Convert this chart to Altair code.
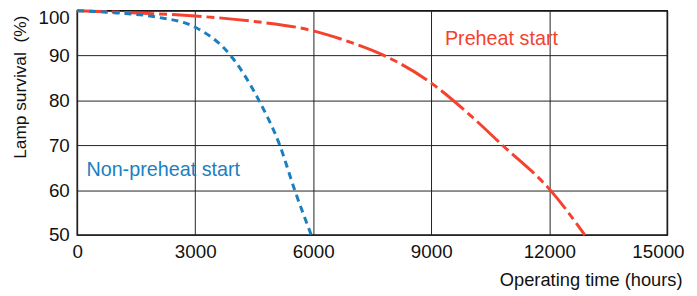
import altair as alt
import pandas as pd

# Preheat start (red, dash-dot)
pre_x = [0, 1500, 3000, 4500, 6000, 6834, 7756, 9011, 9950, 10812, 12027, 12907]
pre_y = [100, 99.5, 98.8, 97.6, 95.5, 93.3, 90.2, 83.8, 77.0, 70.0, 60.0, 50.0]

# Non-preheat start (blue, dashed)
non_x = [0, 1000, 2000, 3000, 3900, 4620, 5150, 5530, 5950]
non_y = [100, 99.5, 98.6, 96.3, 90.0, 80.0, 70.0, 60.0, 50.0]

label_text = ["Preheat start", "Non-preheat start"]
label_x = [9347, 234]
label_y = [92.3, 63.2]
colors = ["#f5412e", "#1a7fc1"]

x_ticks = [0, 3000, 6000, 9000, 12000, 15000]
y_ticks = [50, 60, 70, 80, 90, 100]

pre = pd.DataFrame({"t": pre_x, "s": pre_y})
non = pd.DataFrame({"t": non_x, "s": non_y})
lab = pd.DataFrame({"text": label_text, "t": label_x, "s": label_y, "c": colors})

xs = alt.Scale(domain=[0, 15000], nice=False)
ys = alt.Scale(domain=[50, 100], nice=False, zero=False)

FONT = "Liberation Sans"

xaxis = alt.Axis(values=x_ticks, format="d", title="Operating time (hours)", grid=True,
                 gridColor="#222", gridOpacity=1, gridWidth=1, ticks=False, domain=False,
                 labelFontSize=19, labelPadding=8, labelColor="#111",
                 labelAlign={"condition": {"test": "datum.value == 15000", "value": "right"}, "value": "center"},
                 labelOffset={"condition": {"test": "datum.value == 15000", "value": 17}, "value": 0},
                 titleFontSize=18.5, titleFontWeight="normal", titleColor="#111",
                 titleAlign="right", titleBaseline="alphabetic", titleX=612, titleY=51,
                 labelFont=FONT, titleFont=FONT, labelFlush=False, labelOverlap=False)
yaxis = alt.Axis(values=y_ticks, format="d", title="Lamp survival\u00a0 (%)", grid=True,
                 gridColor="#222", gridOpacity=1, gridWidth=1, ticks=False, domain=False,
                 labelFontSize=19, labelPadding=8, labelColor="#111",
                 labelBaseline={"condition": {"test": "datum.value == 100", "value": "top"}, "value": "middle"},
                 labelOffset={"condition": {"test": "datum.value == 100", "value": -2}, "value": 0},
                 titleFontSize=17.5, titleFontWeight="normal", titleColor="#111",
                 titleAlign="center", titleBaseline="alphabetic", titleAngle=-90,
                 titleX=-52, titleY=77,
                 labelFont=FONT, titleFont=FONT, labelFlush=False, labelOverlap=False)

red = alt.Chart(pre).mark_line(color=colors[0], strokeWidth=3, strokeDash=[30, 5, 8, 5],
                               interpolate="monotone").encode(
    x=alt.X("t:Q", scale=xs, axis=xaxis),
    y=alt.Y("s:Q", scale=ys, axis=yaxis),
)
blue = alt.Chart(non).mark_line(color=colors[1], strokeWidth=3, strokeDash=[7, 5],
                                interpolate="monotone").encode(
    x=alt.X("t:Q", scale=xs), y=alt.Y("s:Q", scale=ys))
texts = alt.Chart(lab).mark_text(align="left", baseline="alphabetic", fontSize=20,
                                 font=FONT).encode(
    x=alt.X("t:Q", scale=xs), y=alt.Y("s:Q", scale=ys),
    text="text:N", color=alt.Color("c:N", scale=None))

chart = alt.layer(red, blue, texts).properties(
    width=597, height=227, autosize="none",
    padding={"left": 70, "top": 1, "right": 22, "bottom": 59},
).configure(background="white").configure_view(stroke="#111", strokeWidth=1.5)

chart.save("out.html", embed_options={"renderer": "svg", "actions": False})
